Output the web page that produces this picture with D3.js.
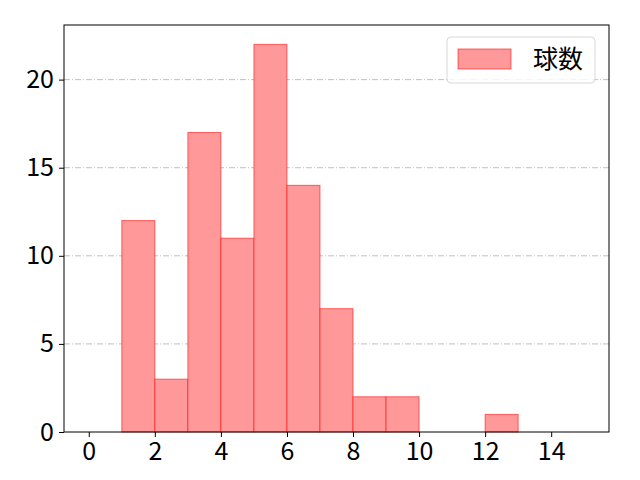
<!DOCTYPE html>
<html>
<head>
<meta charset="utf-8">
<script src="https://cdn.jsdelivr.net/npm/d3@7"></script>
<style>
  body { margin: 0; background: #fff; }
  text { font-family: "Noto Sans CJK JP", "DejaVu Sans", sans-serif; }
</style>
</head>
<body>
<div id="chart"></div>
<script>
// bin edges (left side) and counts
const binStarts = [0, 1, 2, 3, 4, 5, 6, 7, 8, 9, 10, 11, 12, 13, 14];
const counts = [0, 12, 3, 17, 11, 22, 14, 7, 2, 2, 0, 0, 1, 0, 0];
const xTicks = [0, 2, 4, 6, 8, 10, 12, 14];
const yTicks = [0, 5, 10, 15, 20];
const seriesName = "球数";

const margin = {top: 25, right: 31, bottom: 48, left: 64};
const width = 640 - margin.left - margin.right;
const height = 480 - margin.top - margin.bottom;

const svg = d3.select("#chart")
    .append("svg")
    .attr("width", 640)
    .attr("height", 480)
    .append("g")
    .attr("transform", `translate(${margin.left},${margin.top})`);

const x = d3.scaleLinear()
    .domain([-0.75, 15.75])
    .range([0, width]);

const y = d3.scaleLinear()
    .domain([0, 22 * 1.05])
    .range([height, 0]);

// grid lines (dash-dot)
svg.selectAll(".grid")
    .data(yTicks.filter(d => d > 0))
    .enter()
    .append("line")
    .attr("x1", 0)
    .attr("x2", width)
    .attr("y1", d => y(d))
    .attr("y2", d => y(d))
    .attr("stroke", "#b0b0b0")
    .attr("stroke-width", 0.8)
    .attr("stroke-dasharray", "6,2,1,2");

const data = binStarts.map((s, i) => ({start: s, count: counts[i]}));

svg.selectAll(".bar")
    .data(data)
    .enter()
    .append("rect")
    .attr("class", "bar")
    .attr("x", d => x(d.start))
    .attr("y", d => y(d.count))
    .attr("width", d => x(d.start + 1) - x(d.start))
    .attr("height", d => height - y(d.count))
    .attr("fill", "rgb(255,153,153)")
    .attr("stroke", "rgba(255,0,0,0.55)")
    .attr("stroke-width", 1);

// frame
svg.append("rect")
    .attr("width", width)
    .attr("height", height)
    .attr("fill", "none")
    .attr("stroke", "#000")
    .attr("stroke-width", 1);

const xAxis = svg.append("g")
    .attr("transform", `translate(0,${height})`)
    .call(d3.axisBottom(x).tickValues(xTicks).tickSize(5).tickPadding(5));
const yAxis = svg.append("g")
    .call(d3.axisLeft(y).tickValues(yTicks).tickSize(5).tickPadding(5));

[xAxis, yAxis].forEach(a => {
    a.select(".domain").remove();
    a.selectAll("line").attr("stroke", "#000");
    a.selectAll("text")
        .attr("fill", "#000")
        .style("font-size", "25px")
        .style("font-family", "'Noto Sans CJK JP', sans-serif");
});

// legend
const legend = svg.append("g")
    .attr("transform", `translate(${width - 162},12)`);
legend.append("rect")
    .attr("width", 148)
    .attr("height", 46)
    .attr("rx", 4)
    .attr("fill", "rgba(255,255,255,0.8)")
    .attr("stroke", "#d8d8d8");
legend.append("rect")
    .attr("x", 11)
    .attr("y", 12)
    .attr("width", 53)
    .attr("height", 20)
    .attr("fill", "rgb(255,153,153)")
    .attr("stroke", "rgba(255,0,0,0.55)");
legend.append("text")
    .attr("x", 86)
    .attr("y", 22)
    .attr("dy", "0.35em")
    .style("font-size", "25px")
    .attr("fill", "#000")
    .text(seriesName);
</script>
</body>
</html>
